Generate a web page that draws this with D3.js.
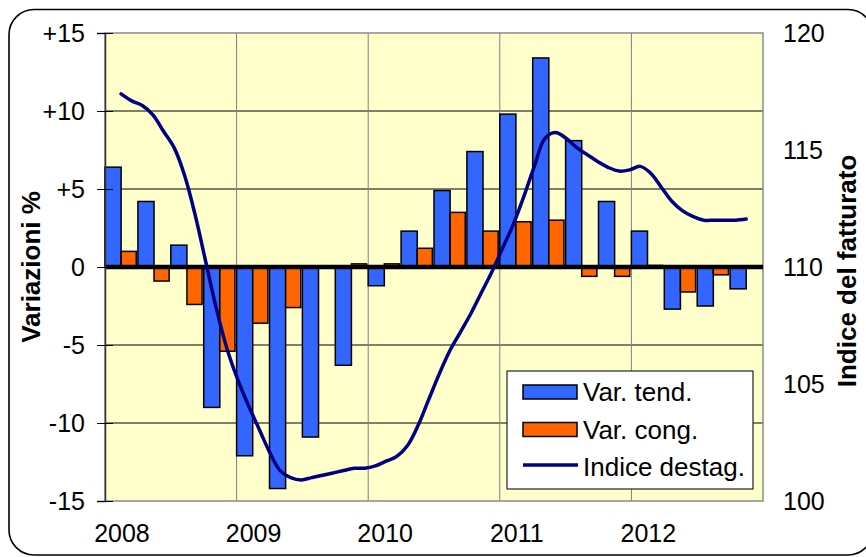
<!DOCTYPE html>
<html><head><meta charset="utf-8">
<script src="https://cdn.jsdelivr.net/npm/d3@7"></script>
<style>
html,body{margin:0;padding:0;background:#fff;}
svg text{font-family:"Liberation Sans",Arial,sans-serif;fill:#000;}
</style></head>
<body>
<svg id="chart" width="866" height="557"></svg>
<script>
// ---- data ----
const years = [2008, 2009, 2010, 2011, 2012];
const quarters = ["2008T1","2008T2","2008T3","2008T4","2009T1","2009T2","2009T3","2009T4",
  "2010T1","2010T2","2010T3","2010T4","2011T1","2011T2","2011T3","2011T4",
  "2012T1","2012T2","2012T3","2012T4"];
const varTend = [6.4, 4.2, 1.4, -9.0, -12.1, -14.2, -10.9, -6.3, -1.2, 2.3, 4.9, 7.4, 9.8, 13.4, 8.1, 4.2, 2.3, -2.7, -2.5, -1.4];
const varCong = [1.0, -0.9, -2.4, -5.4, -3.6, -2.6, 0.0, 0.2, 0.2, 1.2, 3.5, 2.3, 2.9, 3.0, -0.6, -0.6, 0.1, -1.6, -0.5, 0.0];
// monthly seasonally adjusted index (Jan 2008 - Dec 2012)
const indiceDestag = [117.4, 117.1, 116.9, 116.5, 115.8, 115.1, 113.9, 112.2, 110.2, 108.2, 106.5, 105.2,
  104.1, 103.1, 102.1, 101.3, 101.0, 100.9, 101.0, 101.1, 101.2, 101.3, 101.4, 101.4,
  101.5, 101.7, 101.9, 102.35, 103.2, 104.3, 105.4, 106.4, 107.2, 108.0, 108.9, 109.8,
  110.8, 111.8, 113.0, 114.3, 115.5, 115.75, 115.5, 115.1, 114.8, 114.5, 114.25, 114.1,
  114.15, 114.3, 114.0, 113.4, 112.8, 112.4, 112.15, 112.0, 112.0, 112.0, 112.0, 112.05];
const leftTicks = [-15, -10, -5, 0, 5, 10, 15];
const rightTicks = [100, 105, 110, 115, 120];
const legendLabels = ["Var. tend.", "Var. cong.", "Indice destag."];

// ---- layout ----
const svg = d3.select("#chart");
const L = 105, R = 763, T = 33, B = 501;
const C = {blue: "#3366FF", orange: "#FF6600", line: "#000080", plot: "#FFFFCC"};

const x = d3.scaleLinear().domain([2008, 2013]).range([L, R]);
const y = d3.scaleLinear().domain([-15, 15]).range([B, T]);
const y2 = d3.scaleLinear().domain([100, 120]).range([B, T]);
const band = x(2008.25) - x(2008);
const wBlue = band * 0.49, wOr = band * 0.46;
const qx = i => x(2008 + i / 4);
const lx = d3.scaleLinear().domain([0, indiceDestag.length - 1]).range([qx(0) + wBlue, qx(quarters.length - 1) + wBlue]);

// outer frame
svg.append("rect").attr("x", 9).attr("y", 9.5).attr("width", 864).attr("height", 545.5)
  .attr("rx", 25).attr("ry", 25).attr("fill", "#fff").attr("stroke", "#000").attr("stroke-width", 1.6);

// plot background
svg.append("rect").attr("x", L).attr("y", T).attr("width", R - L).attr("height", B - T).attr("fill", C.plot);

// horizontal grid
svg.append("g").selectAll("line").data(leftTicks.filter(d => d !== 0 && Math.abs(d) !== 15)).join("line")
  .attr("x1", L).attr("x2", R).attr("y1", d => y(d)).attr("y2", d => y(d))
  .attr("stroke", "#000").attr("stroke-width", 1);
// vertical grid
svg.append("g").selectAll("line").data(years.slice(1)).join("line")
  .attr("x1", d => x(d)).attr("x2", d => x(d)).attr("y1", T).attr("y2", B)
  .attr("stroke", "#808080").attr("stroke-width", 1);

// plot border
svg.append("rect").attr("x", L).attr("y", T).attr("width", R - L).attr("height", B - T)
  .attr("fill", "none").attr("stroke", "#8a8a8a").attr("stroke-width", 1.5);

// bars
const bars = svg.append("g").attr("stroke", "#000").attr("stroke-width", 1.5);
bars.selectAll("rect.t").data(varTend).join("rect").attr("class", "t")
  .attr("x", (d, i) => qx(i)).attr("width", wBlue)
  .attr("y", d => y(Math.max(0, d))).attr("height", d => Math.abs(y(d) - y(0)))
  .attr("fill", C.blue);
bars.selectAll("rect.c").data(varCong).join("rect").attr("class", "c")
  .attr("x", (d, i) => qx(i) + wBlue).attr("width", wOr)
  .attr("y", d => y(Math.max(0, d))).attr("height", d => Math.abs(y(d) - y(0)))
  .attr("fill", C.orange).attr("stroke-width", d => d === 0 ? 0 : 1.5);

// zero line
svg.append("line").attr("x1", L).attr("x2", R).attr("y1", y(0)).attr("y2", y(0))
  .attr("stroke", "#000").attr("stroke-width", 4.5);

// left axis
const axL = svg.append("g").attr("transform", `translate(${L},0)`)
  .call(d3.axisLeft(y).tickValues(leftTicks).tickSize(8).tickPadding(12)
    .tickFormat(d => d > 0 ? "+" + d : String(d)));
axL.select(".domain").attr("stroke", "#333").attr("stroke-width", 1.5);
axL.selectAll(".tick line").attr("stroke", "#000").attr("x2", -8).attr("x1", 8);
axL.selectAll("text").attr("font-size", 25);

// right axis
const axR = svg.append("g").attr("transform", `translate(${R},0)`)
  .call(d3.axisRight(y2).tickValues(rightTicks).tickSize(0).tickPadding(20));
axR.select(".domain").remove();
axR.selectAll("text").attr("font-size", 25);

// bottom axis
const axB = svg.append("g").attr("transform", `translate(${band / 2},${B})`)
  .call(d3.axisBottom(x).tickValues(years).tickSize(0).tickPadding(23).tickFormat(d3.format("d")));
axB.select(".domain").remove();
axB.selectAll("text").attr("font-size", 25);

// line
svg.append("path").datum(indiceDestag)
  .attr("d", d3.line().x((d, i) => lx(i)).y(d => y2(d)).curve(d3.curveCatmullRom))
  .attr("fill", "none").attr("stroke", C.line).attr("stroke-width", 3.5).attr("stroke-linecap", "round");

// axis titles
svg.append("text").attr("transform", `translate(40,${(T + B) / 2}) rotate(-90)`)
  .attr("text-anchor", "middle").attr("font-weight", "bold").attr("font-size", 26).text("Variazioni %");
svg.append("text").attr("transform", `translate(856,${(T + B) / 2 + 4}) rotate(-90)`)
  .attr("text-anchor", "middle").attr("font-weight", "bold").attr("font-size", 26).text("Indice del fatturato");

// legend
const lg = svg.append("g").attr("transform", "translate(507,371)");
lg.append("rect").attr("width", 246).attr("height", 118).attr("fill", "#fff")
  .attr("stroke", "#222").attr("stroke-width", 1.2);
const lcols = [C.blue, C.orange];
legendLabels.forEach((lab, i) => {
  const cy = 21 + i * 37.5;
  if (i < 2) {
    lg.append("rect").attr("x", 16).attr("y", cy - 7).attr("width", 54).attr("height", 14)
      .attr("fill", lcols[i]).attr("stroke", "#000").attr("stroke-width", 1.5);
  } else {
    lg.append("line").attr("x1", 16).attr("x2", 71).attr("y1", cy - 2).attr("y2", cy - 2)
      .attr("stroke", C.line).attr("stroke-width", 3.5);
  }
  lg.append("text").attr("x", 76).attr("y", cy).attr("dy", "0.35em").attr("font-size", 26).text(lab);
});
</script>
</body></html>
